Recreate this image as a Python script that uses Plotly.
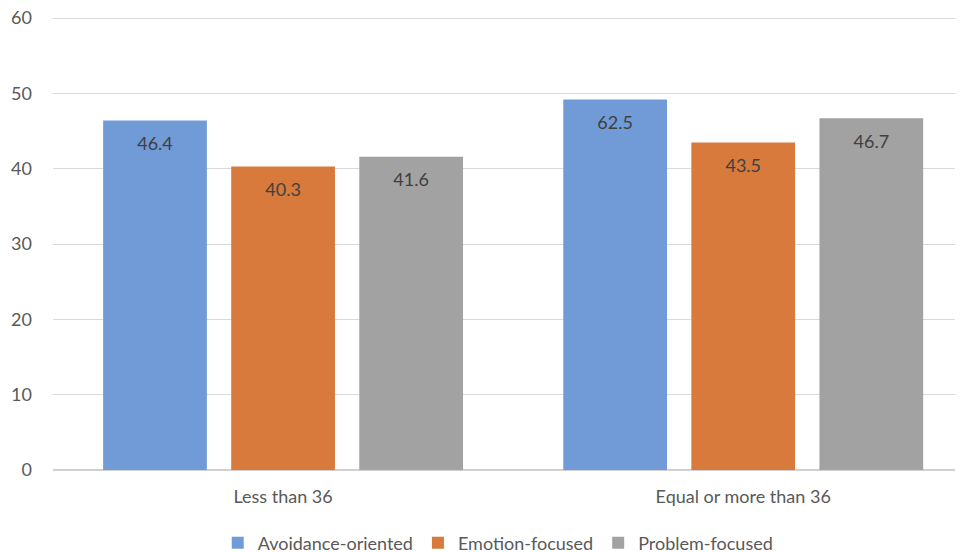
import plotly.graph_objects as go

categories = ["Less than 36", "Equal or more than 36"]
series_names = ["Avoidance-oriented", "Emotion-focused", "Problem-focused"]
avoidance = [46.4, 49.2]
emotion = [40.3, 43.5]
problem = [41.6, 46.7]
avoidance_labels = ["46.4", "62.5"]
emotion_labels = ["40.3", "43.5"]
problem_labels = ["41.6", "46.7"]
y_ticks = [0, 10, 20, 30, 40, 50, 60]

colors = ["#709bd6", "#d77a3c", "#a2a2a2"]
font_family = "Lato, Open Sans, sans-serif"

fig = go.Figure()
for name, vals, labels, color in zip(
    series_names,
    [avoidance, emotion, problem],
    [avoidance_labels, emotion_labels, problem_labels],
    colors,
):
    fig.add_trace(go.Bar(
        name=name,
        x=categories,
        y=vals,
        text=["<span style='font-size:3px'>&nbsp;</span><br>" + t for t in labels],
        textposition="inside",
        insidetextanchor="end",
        textangle=0,
        textfont=dict(size=18, color="#404040", family=font_family),
        marker=dict(color=color, line=dict(width=0)),
        hoverinfo="skip",
    ))

fig.update_layout(
    width=963,
    height=552,
    margin=dict(l=45, r=0, t=9, b=90, autoexpand=False),
    paper_bgcolor="white",
    plot_bgcolor="white",
    barmode="group",
    bargap=0.165,
    bargroupgap=0.19,
    font=dict(family=font_family, size=18, color="#595959"),
    showlegend=True,
    legend=dict(
        orientation="h",
        x=0.485,
        xanchor="center",
        y=-0.161,
        yanchor="middle",
        font=dict(size=18, color="#595959"),
        itemwidth=30,
        traceorder="normal",
    ),
    uniformtext=dict(mode=False),
)
fig.update_xaxes(
    type="category",
    range=[-0.5, 1.495],
    showgrid=False,
    showline=False,
    ticks="",
    ticklabelstandoff=14,
    tickfont=dict(size=18, color="#595959"),
)
fig.update_yaxes(
    range=[0, 60.15],
    tickvals=y_ticks,
    showgrid=True,
    gridcolor="#d9d9d9",
    gridwidth=1.3,
    zeroline=True,
    zerolinecolor="#d0d0d0",
    zerolinewidth=2,
    showline=False,
    ticks="",
    ticklabelstandoff=20,
    ticklabeloverflow="allow",
    tickfont=dict(size=18, color="#595959"),
)

fig.write_html("out.html")
